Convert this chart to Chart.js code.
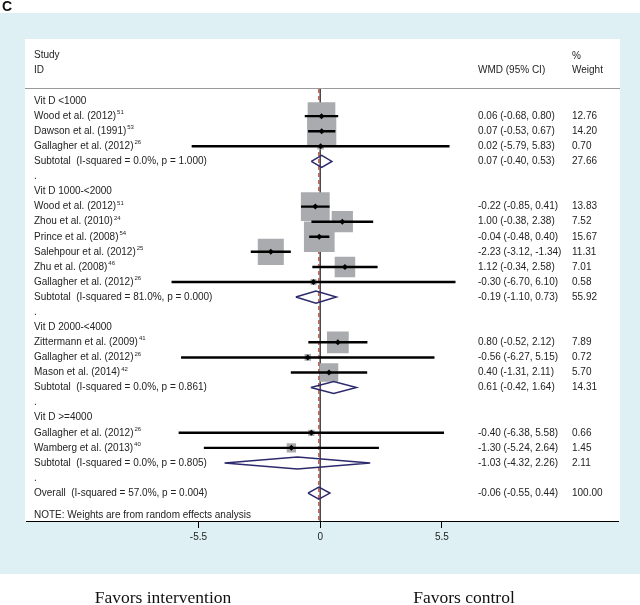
<!DOCTYPE html>
<html>
<head>
<meta charset="utf-8">
<script src="https://cdn.jsdelivr.net/npm/chart.js@4"></script>
<style>
  html, body { margin: 0; padding: 0; background: #fff; }
  canvas { display: block; }
</style>
</head>
<body>
<canvas id="forest" width="640" height="605"></canvas>
<script>
// Row labels, top to bottom (row index = y value)
const rowLabels = [
    'Vit D <1000', 'Wood et al. (2012)', 'Dawson et al. (1991)', 'Gallagher et al. (2012)',
    'Subtotal  (I-squared = 0.0%, p = 1.000)', '.',
    'Vit D 1000-<2000', 'Wood et al. (2012)', 'Zhou et al. (2010)', 'Prince et al. (2008)',
    'Salehpour et al. (2012)', 'Zhu et al. (2008)', 'Gallagher et al. (2012)',
    'Subtotal  (I-squared = 81.0%, p = 0.000)', '.',
    'Vit D 2000-<4000', 'Zittermann et al. (2009)', 'Gallagher et al. (2012)', 'Mason et al. (2014)',
    'Subtotal  (I-squared = 0.0%, p = 0.861)', '.',
    'Vit D >=4000', 'Gallagher et al. (2012)', 'Wamberg et al. (2013)',
    'Subtotal  (I-squared = 0.0%, p = 0.805)', '.',
    'Overall  (I-squared = 57.0%, p = 0.004)'
];
const rowRefs = ['', '51', '53', '26', '', '', '', '51', '24', '54', '25', '46', '26', '', '', '',
    '41', '26', '42', '', '', '', '26', '40', '', '', ''];

// Individual studies
const studyRows = [1, 2, 3, 7, 8, 9, 10, 11, 12, 16, 17, 18, 22, 23];
const studyWmd = [0.06, 0.07, 0.02, -0.22, 1.00, -0.04, -2.23, 1.12, -0.30, 0.80, -0.56, 0.40, -0.40, -1.30];
const studyLow = [-0.68, -0.53, -5.79, -0.85, -0.38, -0.48, -3.12, -0.34, -6.70, -0.52, -6.27, -1.31, -6.38, -5.24];
const studyHigh = [0.80, 0.67, 5.83, 0.41, 2.38, 0.40, -1.34, 2.58, 6.10, 2.12, 5.15, 2.11, 5.58, 2.64];
const studyWeight = [12.76, 14.20, 0.70, 13.83, 7.52, 15.67, 11.31, 7.01, 0.58, 7.89, 0.72, 5.70, 0.66, 1.45];

// Subtotals and overall
const pooledRows = [4, 13, 19, 24, 26];
const pooledWmd = [0.07, -0.19, 0.61, -1.03, -0.06];
const pooledLow = [-0.40, -1.10, -0.42, -4.32, -0.55];
const pooledHigh = [0.53, 0.73, 1.64, 2.26, 0.44];
const pooledWeight = [27.66, 55.92, 14.31, 2.11, 100.00];

const xTicks = [-5.5, 0, 5.5];
const overallWmd = -0.06;

// layout
const FONT = '"Liberation Sans", Arial, Helvetica, sans-serif';
const TEXT_COLOR = '#232323';
const yMin = -0.8, yMax = 27.85;
const noteRow = 27.45;
const colStudy = 34, colWmd = 478, colWeight = 572;

const fmt = v => v.toFixed(2);

// boxes: area proportional to weight
const boxPoints = studyRows.map((r, i) => ({ x: studyWmd[i], y: r }));
const boxRadius = studyWeight.map(w => 5.48 * Math.sqrt(w));

const diamondSets = pooledRows.map((r, i) => ({
    type: 'line',
    data: [
        { x: pooledLow[i], y: r },
        { x: pooledWmd[i], y: r - 0.4 },
        { x: pooledHigh[i], y: r },
        { x: pooledWmd[i], y: r + 0.4 },
        { x: pooledLow[i], y: r }
    ],
    borderColor: '#2c2a6c',
    borderWidth: 1.5,
    pointRadius: 0,
    fill: false,
    tension: 0,
    order: 1
}));

const forestPlugin = {
    id: 'forestPanel',
    beforeDraw(chart) {
        const ctx = chart.ctx;
        ctx.save();
        ctx.fillStyle = '#fff';
        ctx.fillRect(0, 0, 640, 605);
        ctx.fillStyle = '#dff0f4';
        ctx.fillRect(0, 13, 640, 561);
        ctx.fillStyle = '#fff';
        ctx.fillRect(25, 39, 595, 482);
        // header rule
        ctx.strokeStyle = '#9a9a9a';
        ctx.lineWidth = 1;
        ctx.beginPath();
        ctx.moveTo(25, 88.5);
        ctx.lineTo(620, 88.5);
        ctx.stroke();
        ctx.restore();
    },
    afterDraw(chart) {
        const ctx = chart.ctx;
        const y = chart.scales.y;
        ctx.save();
        ctx.fillStyle = TEXT_COLOR;
        ctx.textBaseline = 'middle';
        ctx.textAlign = 'left';

        ctx.font = 'bold 14px ' + FONT;
        ctx.fillStyle = '#111';
        ctx.fillText('C', 2, 7);

        ctx.fillStyle = TEXT_COLOR;
        ctx.font = '10px ' + FONT;
        ctx.fillText('Study', colStudy, 55);
        ctx.fillText('ID', colStudy, 70);
        ctx.fillText('WMD (95% CI)', colWmd, 70);
        ctx.fillText('%', colWeight, 56);
        ctx.fillText('Weight', colWeight, 70);

        rowLabels.forEach((label, r) => {
            const py = y.getPixelForValue(r);
            ctx.font = '10px ' + FONT;
            ctx.fillText(label, colStudy, py);
            if (rowRefs[r]) {
                const w = ctx.measureText(label).width;
                ctx.font = '6px ' + FONT;
                ctx.fillText(rowRefs[r], colStudy + w + 1, py - 3.5);
            }
        });

        ctx.font = '10px ' + FONT;
        studyRows.forEach((r, i) => {
            const py = y.getPixelForValue(r);
            ctx.fillText(`${fmt(studyWmd[i])} (${fmt(studyLow[i])}, ${fmt(studyHigh[i])})`, colWmd, py);
            ctx.fillText(fmt(studyWeight[i]), colWeight, py);
        });
        pooledRows.forEach((r, i) => {
            const py = y.getPixelForValue(r);
            ctx.fillText(`${fmt(pooledWmd[i])} (${fmt(pooledLow[i])}, ${fmt(pooledHigh[i])})`, colWmd, py);
            ctx.fillText(fmt(pooledWeight[i]), colWeight, py);
        });

        ctx.fillText('NOTE: Weights are from random effects analysis', colStudy, y.getPixelForValue(noteRow));

        // favours labels under the panel
        ctx.font = '17.5px "Liberation Serif", "Times New Roman", serif';
        ctx.fillStyle = '#111';
        ctx.textAlign = 'center';
        ctx.fillText('Favors intervention', 163, 598);
        ctx.fillText('Favors control', 464, 598);
        ctx.restore();
    }
};

const chart = new Chart(document.getElementById('forest').getContext('2d'), {
    type: 'scatter',
    data: {
        datasets: [
            // point estimates
            {
                data: boxPoints,
                pointStyle: 'rectRot',
                pointRadius: 3,
                backgroundColor: '#000',
                borderColor: '#000',
                borderWidth: 0,
                order: 0
            },
            // confidence intervals
            {
                type: 'bar',
                indexAxis: 'y',
                data: studyRows.map((r, i) => ({ y: r, x: [studyLow[i], studyHigh[i]] })),
                backgroundColor: '#000',
                borderWidth: 0,
                barThickness: 1.8,
                order: 2
            },
            // weight boxes
            {
                data: boxPoints,
                pointStyle: 'rect',
                pointRadius: boxRadius,
                backgroundColor: '#a9abae',
                borderWidth: 0,
                order: 3
            },
            ...diamondSets,
            // overall effect (dashed)
            {
                type: 'line',
                data: [{ x: overallWmd, y: yMin }, { x: overallWmd, y: yMax }],
                borderColor: '#b4473f',
                borderWidth: 1.3,
                borderDash: [4, 3],
                pointRadius: 0,
                order: 4
            },
            // null line
            {
                type: 'line',
                data: [{ x: 0, y: yMin }, { x: 0, y: yMax }],
                borderColor: '#111',
                borderWidth: 1.2,
                pointRadius: 0,
                order: 5
            }
        ]
    },
    options: {
        responsive: false,
        animation: false,
        devicePixelRatio: 1,
        events: [],
        layout: { padding: { left: 26, right: 20, top: 89, bottom: 0 } },
        plugins: {
            legend: { display: false },
            tooltip: { enabled: false }
        },
        scales: {
            x: {
                type: 'linear',
                min: -13.29,
                max: 13.47,
                offset: false,
                afterBuildTicks: s => { s.ticks = xTicks.map(v => ({ value: v })); },
                afterFit: s => { s.height = 84; },
                grid: { drawOnChartArea: false, drawTicks: true, tickLength: 7, color: '#000', offset: false },
                border: { display: true, color: '#000', width: 1 },
                ticks: {
                    color: TEXT_COLOR,
                    font: { family: FONT, size: 10 },
                    padding: 3,
                    maxRotation: 0,
                    callback: v => String(v)
                }
            },
            y: {
                type: 'linear',
                display: false,
                reverse: true,
                offset: false,
                grid: { offset: false },
                min: yMin,
                max: yMax
            }
        }
    },
    plugins: [forestPlugin]
});
</script>
</body>
</html>
